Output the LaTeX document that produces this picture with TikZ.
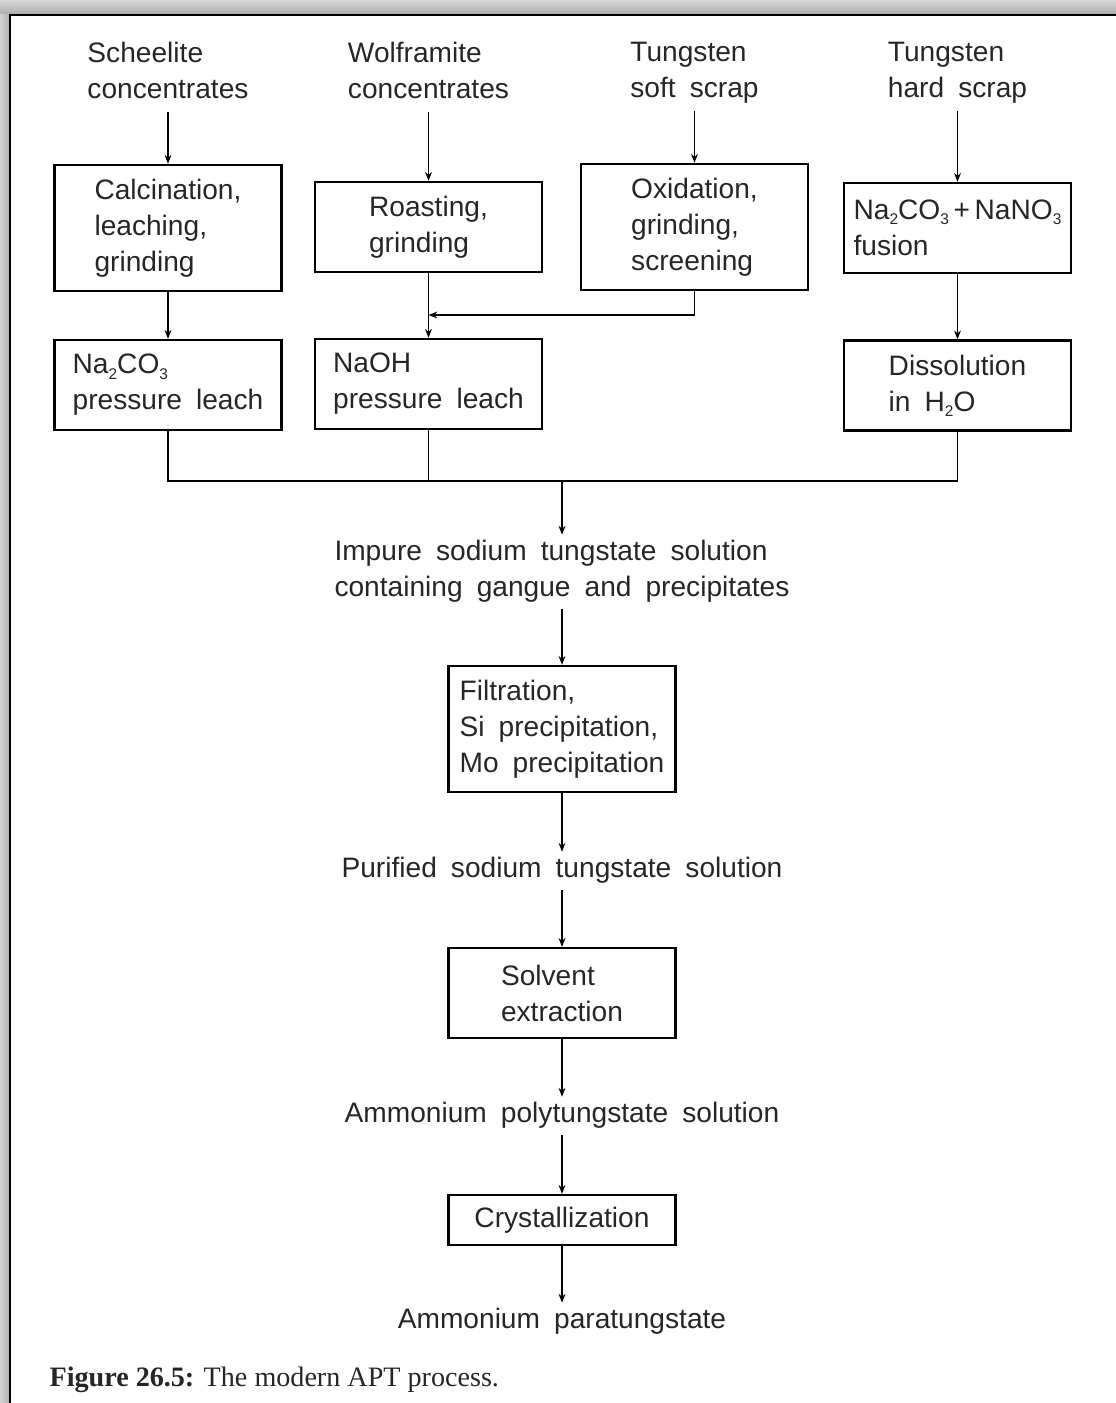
\documentclass[tikz,border=0pt]{standalone}
\usepackage{fontspec}
\setmainfont{Liberation Sans}[WordSpace=1.8]
\newfontfamily\capfont{Liberation Serif}
\usetikzlibrary{arrows.meta}

\newcommand\ix[1]{\raisebox{-0.35ex}{\fontsize{11}{11}\selectfont #1}}

\begin{document}
\begin{tikzpicture}[x=0.025cm, y=-0.025cm, >={Stealth[length=2.2mm,width=1.7mm]}, line width=1.3pt,
        box/.style={draw, line width=1.7pt, minimum width=5.675cm, inner xsep=3pt, align=left,
            text=black!85, font=\fontsize{20}{25.6}\selectfont},
        lbl/.style={align=left, text depth=5pt, text=black!85, font=\fontsize{20}{25.6}\selectfont}]
    \useasboundingbox (0,0) rectangle (1116,1403);
    \shade[top color=gray!30, bottom color=gray!65] (0,0) rectangle (1116,14);
    \shade[left color=gray!35, right color=gray!60] (0,14) rectangle (9,1403);
    \draw[line width=1.6pt] (10,1403) -- (10,15) -- (1116,15);

    \node[lbl, anchor=north] (sch) at (168,37) {Scheelite\\concentrates};
    \node[lbl, anchor=north] (wol) at (428.5,37) {Wolframite\\concentrates};
    \node[lbl, anchor=north] (soft) at (694.5,37) {Tungsten\\soft scrap};
    \node[lbl, anchor=north] (hard) at (957.5,37) {Tungsten\\hard scrap};

    \node[box, minimum height=3.15cm] (calc) at (168,228) {Calcination,\\leaching,\\grinding};
    \node[box, minimum height=2.25cm] (roast) at (428.5,227) {Roasting,\\grinding};
    \node[box, minimum height=3.15cm] (oxid) at (694.5,227) {Oxidation,\\grinding,\\screening};
    \node[box, minimum height=2.25cm] (fus) at (957.5,228) {Na\ix{2}CO\ix{3}\,+\,NaNO\ix{3}\\fusion};

    \node[box, minimum height=2.25cm] (naco) at (168,385) {Na\ix{2}CO\ix{3}\\pressure leach};
    \node[box, minimum height=2.25cm] (naoh) at (428.5,384) {NaOH\\pressure leach};
    \node[box, minimum height=2.25cm] (diss) at (957.5,385.5) {Dissolution\\in H\ix{2}O};

    \coordinate (mrg) at (428.5,315);
    \coordinate (j) at (562,481);

    \node[lbl] (imp) at (562,572) {Impure sodium tungstate solution\\containing gangue and precipitates};
    \node[box, minimum height=3.15cm] (filt) at (562,729) {Filtration,\\Si precipitation,\\Mo precipitation};
    \node[lbl] (pur) at (562,871) {Purified sodium tungstate solution};
    \node[box, minimum height=2.25cm] (solv) at (562,993) {Solvent\\extraction};
    \node[lbl] (poly) at (562,1116) {Ammonium polytungstate solution};
    \node[box, minimum height=1.25cm] (cryst) at (562,1220) {Crystallization};
    \node[lbl] (apt) at (562,1322) {Ammonium paratungstate};

    \node[anchor=west, text=black!85, font=\capfont\fontsize{20}{24}\selectfont] (cap) at (44,1380)
        {\textbf{Figure 26.5:} The modern APT process.};

    \draw[->] (sch.south) -- (calc.north);
    \draw[->] (wol.south) -- (roast.north);
    \draw[->] (soft.south) -- (oxid.north);
    \draw[->] (hard.south) -- (fus.north);

    \draw[->] (calc) -- (naco);
    \draw[->] (roast) -- (naoh);
    \draw[->] (fus) -- (diss);
    \draw[->] (oxid.south) |- (mrg);

    \draw (naco.south) |- (j) -| (diss.south);
    \draw (naoh.south) -- (naoh.south |- j);
    \draw[->] (j) -- (imp);

    \draw[->] (imp) -- (filt);
    \draw[->] (filt) -- (pur);
    \draw[->] (pur) -- (solv);
    \draw[->] (solv) -- (poly);
    \draw[->] (poly) -- (cryst);
    \draw[->] (cryst) -- (apt);
\end{tikzpicture}
\end{document}
